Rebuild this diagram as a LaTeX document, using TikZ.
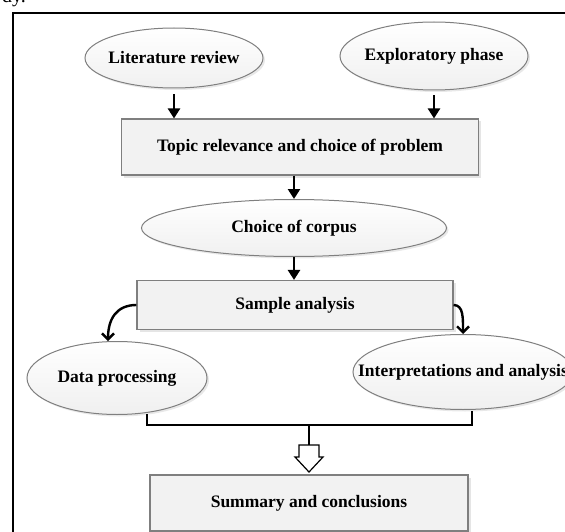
\documentclass[tikz,border=0pt]{standalone}
\usepackage{fontspec}
\setmainfont{Liberation Serif}
\usepackage{tikz}
\usetikzlibrary{shapes.geometric, arrows.meta, shadows, calc}
\definecolor{edge}{HTML}{7F7F7F}
\definecolor{panel}{HTML}{F2F2F2}
\newcommand{\ellabel}[1]{\makebox[0pt]{#1}}

\begin{document}
\begin{tikzpicture}[x=1pt, y=-1pt,
  font=\fontsize{17.5}{20}\selectfont\bfseries,
  stagebox/.style={rectangle, draw=edge, line width=1.1pt, fill=panel,
    drop shadow={shadow xshift=2.5pt, shadow yshift=-2.5pt, fill=gray!40}},
  stageell/.style={ellipse, draw=edge, line width=1pt, inner sep=0pt,
    top color=white, bottom color=gray!12,
    drop shadow={shadow xshift=2pt, shadow yshift=-2pt, fill=gray!35}},
  flow/.style={line width=2.6pt, -{Triangle[width=12pt,length=10pt]}},
  curl/.style={line width=2.4pt, -{Straight Barb[width=12pt,length=6pt]}},
  bracket/.style={line width=2.4pt}]
  \clip (0,0) rectangle (565,532);
  % Caption fragment and frame
  \node[anchor=base west, inner sep=0pt, font=\fontsize{20}{24}\selectfont] (cap) at (2,3) {dy.};
  \draw[line width=1.8pt] (13,545) -- (13,13) -- (575,13);
  % Stages
  \node[stageell, minimum width=178pt, minimum height=60pt] (lit) at (174,58) {\ellabel{Literature review}};
  \node[stageell, minimum width=188pt, minimum height=68pt] (expl) at (434,56) {\ellabel{Exploratory phase}};
  \node[stagebox, minimum width=357pt, minimum height=56pt] (topic) at (300,147) {Topic relevance and choice of problem};
  \node[stageell, minimum width=305pt, minimum height=57pt] (corpus) at (294,228) {\ellabel{Choice of corpus}};
  \node[stagebox, minimum width=316pt, minimum height=49pt] (sample) at (295,305) {Sample analysis};
  \node[stageell, minimum width=180pt, minimum height=73pt] (data) at (117,378) {\ellabel{Data processing}};
  \node[stageell, minimum width=220pt, minimum height=75pt] (interp) at (463,372) {\ellabel{Interpretations and analysis}};
  \node[stagebox, minimum width=318pt, minimum height=56pt] (summary) at (309,503) {Summary and conclusions};
  % Arrows
  \draw[flow, shorten <=6pt] (lit.south) -- (lit.south |- topic.north);
  \draw[flow, shorten <=5pt] (expl.south) -- (expl.south |- topic.north);
  \draw[flow] (corpus.north |- topic.south) -- (corpus.north);
  \draw[flow] (corpus.south) -- (corpus.south |- sample.north);
  \draw[curl] (sample.west) .. controls +(-20,0) and +(0,-22) .. ([xshift=-9pt]data.north);
  \draw[curl] (sample.east) .. controls +(10,0) and +(0,-16) .. (interp.north);
  % Bracket and block arrow
  \coordinate (bl) at (147,414);
  \coordinate (br) at (472,411);
  \coordinate (mid) at (309,425);
  \coordinate (ba) at (309,445);
  \draw[bracket] (bl) |- (mid) -| (br);
  \draw[bracket] (mid) -- (ba);
  \draw[line width=1.2pt, fill=white] (ba) ++(-10,0) -- ++(0,12) -- ++(-4,0) -- ++(14,15)
    -- ++(14,-15) -- ++(-4,0) -- ++(0,-12) -- cycle;
\end{tikzpicture}
\end{document}
